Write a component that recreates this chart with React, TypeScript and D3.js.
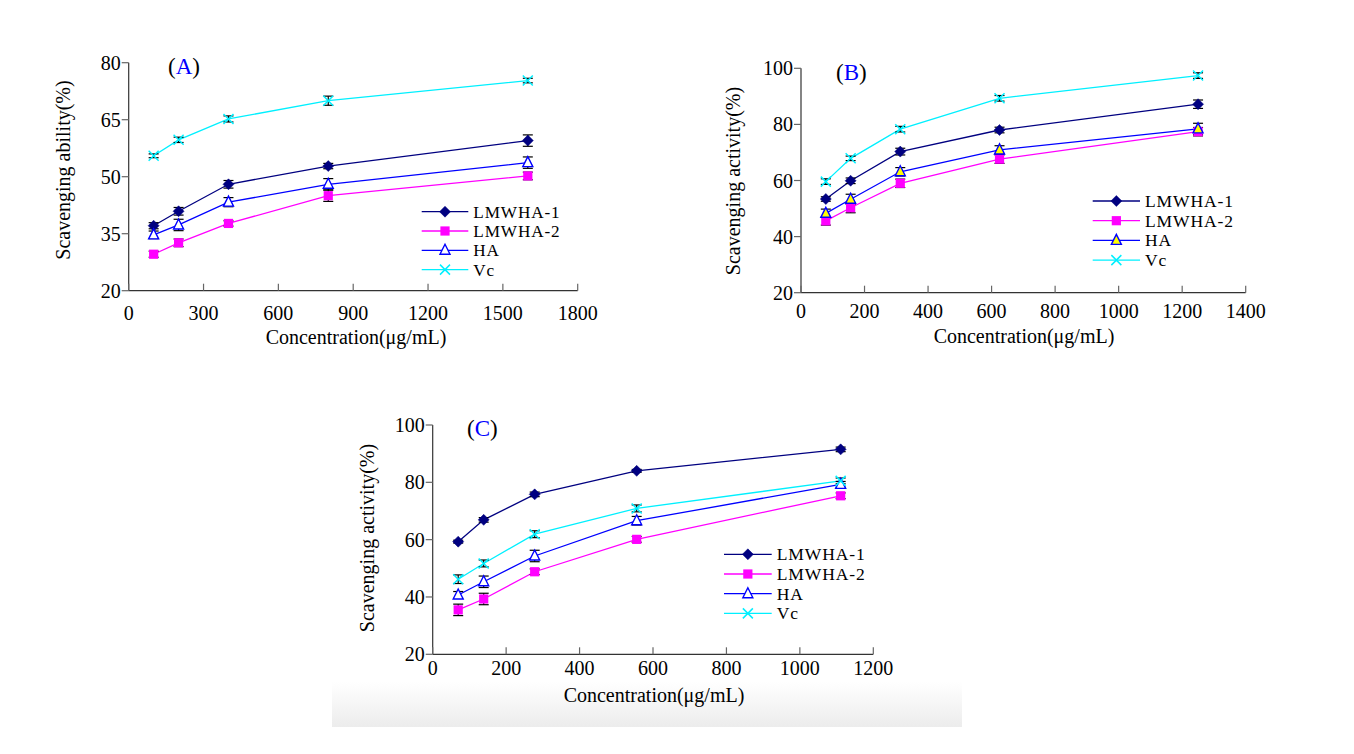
import React from 'react';
import * as d3 from 'd3';

// ---------- data ----------
const seriesNames = ['LMWHA-1', 'LMWHA-2', 'HA', 'Vc'];

const concA = [100, 200, 400, 800, 1600];
const aLMWHA1 = [37.1, 40.9, 48.0, 52.8, 59.5];
const aLMWHA2 = [29.6, 32.6, 37.7, 45.0, 50.2];
const aHA = [34.7, 37.3, 43.3, 48.0, 53.7];
const aVc = [55.5, 59.7, 65.2, 70.0, 75.3];
const aErrLMWHA1 = [0.8, 1.0, 1.0, 0.7, 1.5];
const aErrLMWHA2 = [0.8, 1.0, 0.7, 1.5, 1.0];
const aErrHA = [1.0, 1.5, 1.2, 1.5, 1.5];
const aErrVc = [0.5, 0.7, 0.8, 1.2, 0.6];
const ticksXA = [0, 300, 600, 900, 1200, 1500, 1800];
const ticksYA = [20, 35, 50, 65, 80];

const concB = [78.125, 156.25, 312.5, 625, 1250];
const bLMWHA1 = [53.4, 59.9, 70.3, 78.0, 87.2];
const bLMWHA2 = [45.6, 50.3, 59.0, 67.6, 77.4];
const bHA = [48.3, 53.3, 63.1, 70.9, 78.4];
const bVc = [59.6, 67.9, 78.3, 89.3, 97.4];
const bErrLMWHA1 = [0.8, 1.0, 1.2, 1.0, 1.5];
const bErrLMWHA2 = [1.5, 1.8, 1.5, 1.5, 1.5];
const bErrHA = [1.5, 1.8, 1.5, 1.5, 2.0];
const bErrVc = [1.0, 0.8, 1.0, 1.0, 1.0];
const ticksXB = [0, 200, 400, 600, 800, 1000, 1200, 1400];
const ticksYB = [20, 40, 60, 80, 100];

const concC = [69.44, 138.89, 277.78, 555.56, 1111.11];
const cLMWHA1 = [59.3, 66.9, 75.8, 84.0, 91.5];
const cLMWHA2 = [35.5, 39.3, 48.8, 60.1, 75.3];
const cHA = [40.7, 45.3, 54.3, 66.6, 79.3];
const cVc = [46.2, 51.7, 61.9, 70.9, 80.5];
const cErrLMWHA1 = [0.5, 0.8, 0.8, 0.5, 0.8];
const cErrLMWHA2 = [2.0, 2.0, 1.0, 1.0, 1.0];
const cErrHA = [1.2, 2.0, 2.0, 1.5, 1.0];
const cErrVc = [1.5, 1.2, 1.2, 1.2, 1.0];
const ticksXC = [0, 200, 400, 600, 800, 1000, 1200];
const ticksYC = [20, 40, 60, 80, 100];

const xLabel = 'Concentration(\u03bcg/mL)';

// ---------- styles ----------
const FONT = '"Liberation Serif", "Times New Roman", serif';
const colors = ['#000080', '#FF00FF', '#0000FF', '#00F0FF'];
const markers = ['diamond', 'square', 'triangle', 'x'];

function Marker({ type, x, y, haFill }: any) {
  if (type === 'diamond') {
    const r = 5.5;
    return <path d={`M${x},${y - r}L${x + r},${y}L${x},${y + r}L${x - r},${y}Z`} fill="#000080" stroke="#000080" strokeWidth={0.5} />;
  }
  if (type === 'square') {
    const r = 4.6;
    return <rect x={x - r} y={y - r} width={2 * r} height={2 * r} fill="#FF00FF" />;
  }
  if (type === 'triangle') {
    const h = 5;
    return <path d={`M${x},${y - h - 1}L${x + 5},${y + h - 1}L${x - 5},${y + h - 1}Z`} fill={haFill} stroke="#0000FF" strokeWidth={1.4} />;
  }
  const r = 5;
  return <path d={`M${x - r},${y - r}L${x + r},${y + r}M${x - r},${y + r}L${x + r},${y - r}`} stroke="#00F0FF" strokeWidth={1.5} />;
}

function Panel(p: any) {
  const x = d3.scaleLinear().domain(p.xDomain).range(p.xRange);
  const y = d3.scaleLinear().domain(p.yDomain).range(p.yRange);
  const line = d3.line<[number, number]>().x(d => x(d[0])).y(d => y(d[1]));
  const [x0, x1] = p.xRange;
  const [yb, yt] = p.yRange;
  const legendFont = p.legendGap * 0.89;
  return (
    <g fontFamily={FONT} fontSize={20} fill="#000">
      {/* axes */}
      <line x1={x0} x2={x0} y1={yb} y2={yt} stroke="#333" strokeWidth={1.2} />
      <line x1={x0} x2={x1} y1={yb} y2={yb} stroke="#333" strokeWidth={1.2} />
      {p.yTicks.map((t: number) => (
        <g key={'y' + t}>
          <line x1={x0 - 7} x2={x0} y1={y(t)} y2={y(t)} stroke="#666" strokeWidth={1.2} />
          <text x={x0 - 8} y={y(t) + 7} textAnchor="end">{t}</text>
        </g>
      ))}
      {p.xTicks.map((t: number) => (
        <g key={'x' + t}>
          <line x1={x(t)} x2={x(t)} y1={yb} y2={yb - 7} stroke="#666" strokeWidth={1.2} />
          <text x={x(t)} y={p.xTickY} textAnchor="middle">{t}</text>
        </g>
      ))}
      <text x={p.xLabelX} y={p.xLabelY} textAnchor="middle">{xLabel}</text>
      <text transform={`translate(${p.yLabelX},${p.yLabelY}) rotate(-90)`} textAnchor="middle" dy="0.35em">{p.yLabel}</text>
      <text x={p.titleX} y={p.titleY} fontSize={23}>(<tspan fill="#0000FF">{p.title}</tspan>)</text>
      {/* lines */}
      {p.series.map((s: number[], i: number) => (
        <path key={'l' + i} d={line(p.conc.map((c: number, j: number) => [c, s[j]]) as any) || ''} fill="none" stroke={colors[i]} strokeWidth={1.3} />
      ))}
      {/* error bars */}
      {p.series.map((s: number[], i: number) => (
        <g key={'e' + i} stroke="#000" strokeWidth={1.2}>
          {p.conc.map((c: number, j: number) => {
            const cx = x(c);
            const lo = y(s[j] - p.errs[i][j]);
            const hi = y(s[j] + p.errs[i][j]);
            return (
              <g key={j}>
                <line x1={cx} x2={cx} y1={lo} y2={hi} />
                <line x1={cx - 5} x2={cx + 5} y1={lo} y2={lo} />
                <line x1={cx - 5} x2={cx + 5} y1={hi} y2={hi} />
              </g>
            );
          })}
        </g>
      ))}
      {/* markers */}
      {p.series.map((s: number[], i: number) => (
        <g key={'m' + i}>
          {p.conc.map((c: number, j: number) => (
            <Marker key={j} type={markers[i]} x={x(c)} y={y(s[j])} haFill={p.haFill} />
          ))}
        </g>
      ))}
      {/* legend */}
      {seriesNames.map((n, i) => {
        const ly = p.legendY + i * p.legendGap;
        return (
          <g key={'lg' + i}>
            <line x1={p.legendX0} x2={p.legendX1} y1={ly} y2={ly} stroke={colors[i]} strokeWidth={1.3} />
            <Marker type={markers[i]} x={(p.legendX0 + p.legendX1) / 2} y={ly} haFill={p.haFill} />
            <text x={p.legendX1 + 5} y={ly + 6} fontSize={legendFont} letterSpacing={0.9}>{n}</text>
          </g>
        );
      })}
    </g>
  );
}

export default function App() {
  return (
    <svg width={1354} height={754} style={{ position: 'absolute', left: 0, top: 0, background: '#fff' }}>
      <defs>
        <linearGradient id="band" x1="0" x2="0" y1="0" y2="1">
          <stop offset="0" stopColor="#ffffff" />
          <stop offset="1" stopColor="#ececec" />
        </linearGradient>
      </defs>
      <rect x={0} y={0} width={1354} height={754} fill="#fff" />
      <rect x={332} y={682} width={630} height={45} fill="url(#band)" />
      <Panel
        xDomain={[0, 1800]} xRange={[128.7, 577.7]}
        yDomain={[20, 80]} yRange={[290.7, 62.7]}
        xTicks={ticksXA} yTicks={ticksYA}
        conc={concA}
        series={[aLMWHA1, aLMWHA2, aHA, aVc]}
        errs={[aErrLMWHA1, aErrLMWHA2, aErrHA, aErrVc]}
        haFill="#fff"
        xTickY={320} xLabelX={356} xLabelY={344}
        yLabel="Scavenging ability(%)" yLabelX={63} yLabelY={170}
        title="A" titleX={168} titleY={74}
        legendX0={421.7} legendX1={468.3} legendY={211.7} legendGap={19.3}
      />
      <Panel
        xDomain={[0, 1400]} xRange={[801, 1245.7]}
        yDomain={[20, 100]} yRange={[292.7, 68.3]}
        xTicks={ticksXB} yTicks={ticksYB}
        conc={concB}
        series={[bLMWHA1, bLMWHA2, bHA, bVc]}
        errs={[bErrLMWHA1, bErrLMWHA2, bErrHA, bErrVc]}
        haFill="#FFFF00"
        xTickY={318} xLabelX={1024} xLabelY={343}
        yLabel="Scavenging activity(%)" yLabelX={733} yLabelY={181}
        title="B" titleX={836} titleY={80}
        legendX0={1092.7} legendX1={1140} legendY={201} legendGap={19.7}
      />
      <Panel
        xDomain={[0, 1200]} xRange={[432.7, 873.3]}
        yDomain={[20, 100]} yRange={[654.3, 425]}
        xTicks={ticksXC} yTicks={ticksYC}
        conc={concC}
        series={[cLMWHA1, cLMWHA2, cHA, cVc]}
        errs={[cErrLMWHA1, cErrLMWHA2, cErrHA, cErrVc]}
        haFill="#fff"
        xTickY={675} xLabelX={654} xLabelY={702}
        yLabel="Scavenging activity(%)" yLabelX={367} yLabelY={538}
        title="C" titleX={467} titleY={436}
        legendX0={724} legendX1={771.7} legendY={554.3} legendGap={19.7}
      />
    </svg>
  );
}
